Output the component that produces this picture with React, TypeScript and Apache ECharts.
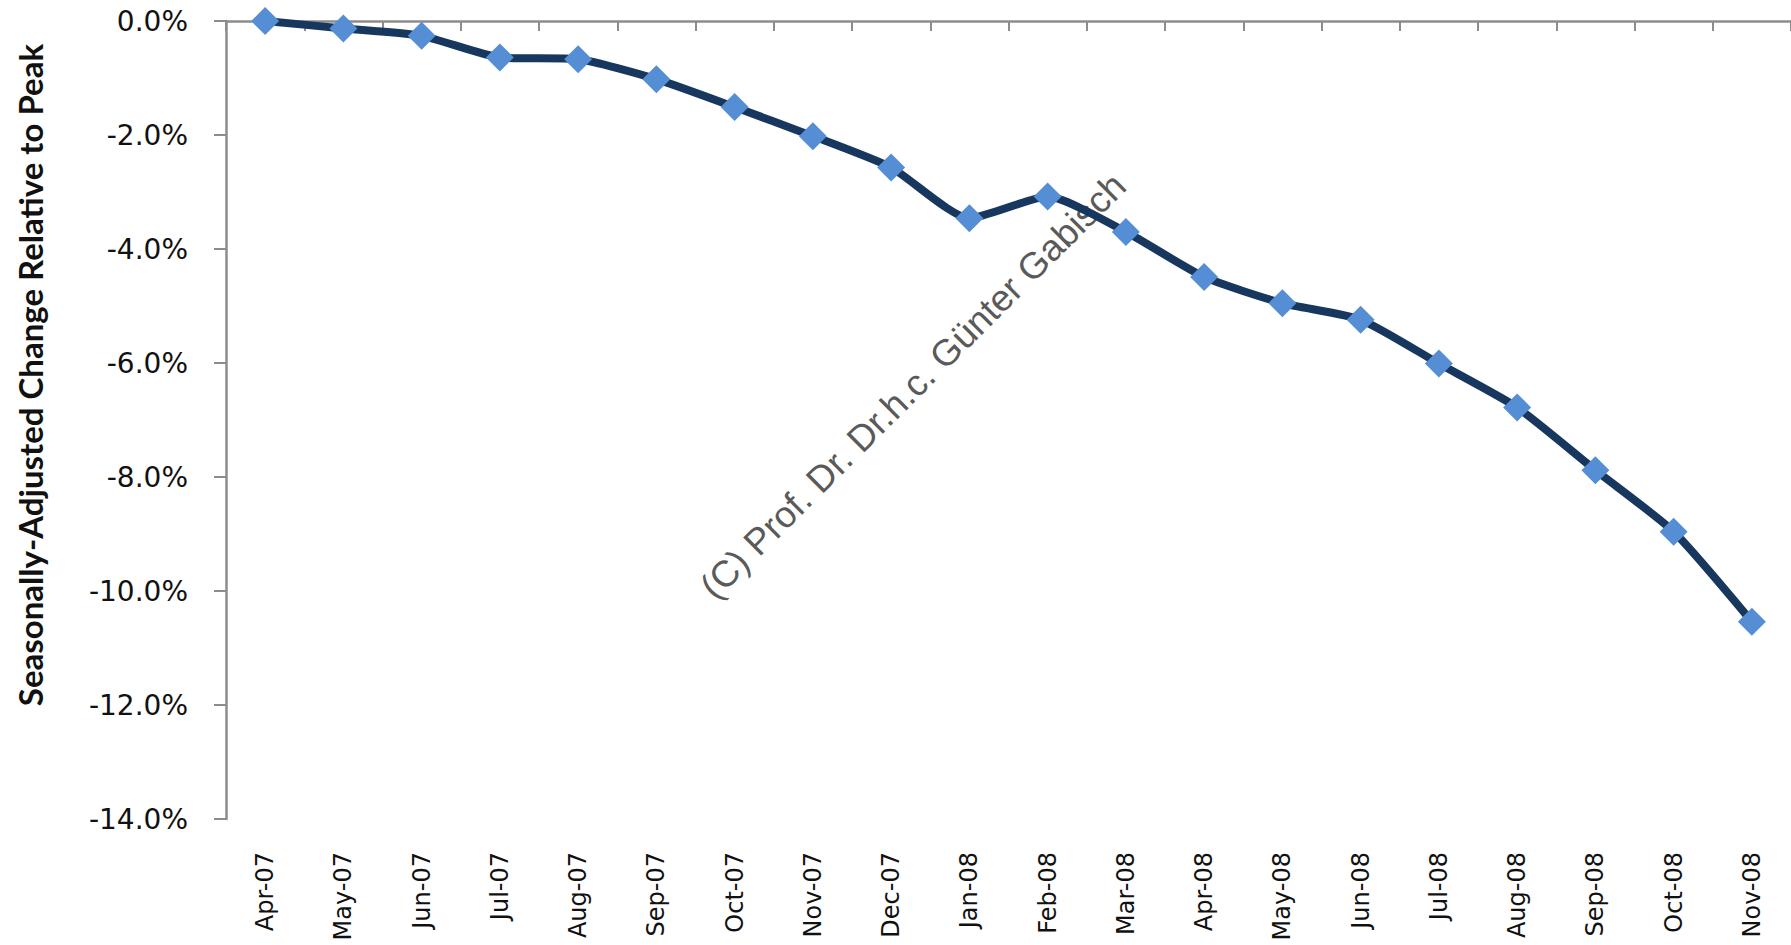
import React, { useEffect, useRef } from "react";
import * as echarts from "echarts";

const months = [
  "Apr-07", "May-07", "Jun-07", "Jul-07", "Aug-07", "Sep-07", "Oct-07", "Nov-07", "Dec-07",
  "Jan-08", "Feb-08", "Mar-08", "Apr-08", "May-08", "Jun-08", "Jul-08", "Aug-08", "Sep-08",
  "Oct-08", "Nov-08",
];

const changeFromPeak = [
  0.0, -0.13, -0.26, -0.64, -0.67, -1.02, -1.51, -2.02, -2.57,
  -3.46, -3.08, -3.7, -4.49, -4.95, -5.24, -6.01, -6.78, -7.88,
  -8.96, -10.54,
];

const yMin = -14;
const yMax = 0;
const yStep = 2;

const yTitle = "Seasonally-Adjusted Change Relative to Peak";
const watermark = "(C) Prof. Dr. Dr.h.c. Günter Gabisch";

export default function App() {
  const ref = useRef<HTMLDivElement>(null);

  useEffect(() => {
    if (!ref.current) return;
    const chart = echarts.init(ref.current, null, { renderer: "svg" });
    const axisGray = "#8c8c8c";
    chart.setOption({
      animation: false,
      backgroundColor: "#ffffff",
      grid: { left: 226, top: 21, width: 1568, height: 798, containLabel: false },
      xAxis: [
        {
          type: "category",
          position: "top",
          data: months,
          boundaryGap: true,
          axisLine: { show: true, onZero: false, lineStyle: { color: axisGray, width: 2.5 } },
          axisTick: { show: true, inside: true, length: 10, lineStyle: { color: axisGray, width: 2 } },
          axisLabel: { show: false },
          splitLine: { show: false },
        },
        {
          type: "category",
          position: "bottom",
          data: months,
          boundaryGap: true,
          axisLine: { show: false },
          axisTick: { show: false },
          axisLabel: {
            show: true,
            rotate: 90,
            margin: 33,
            interval: 0,
            fontSize: 24,
            color: "#111",
            fontFamily: "DejaVu Sans",
          },
          splitLine: { show: false },
        },
      ],
      yAxis: {
        type: "value",
        min: yMin,
        max: yMax,
        interval: yStep,
        axisLine: { show: true, lineStyle: { color: axisGray, width: 2.5 } },
        axisTick: { show: true, inside: false, length: 12, lineStyle: { color: axisGray, width: 2 } },
        splitLine: { show: false },
        axisLabel: {
          margin: 38,
          fontSize: 28,
          color: "#111",
          fontFamily: "DejaVu Sans",
          formatter: (v: number) => v.toFixed(1) + "%",
        },
      },
      graphic: [
        {
          type: "text",
          x: 30,
          y: 375,
          rotation: Math.PI / 2,
          z: 10,
          style: {
            text: yTitle,
            fill: "#111",
            font: "bold 33px Lato",
            textAlign: "center",
            textVerticalAlign: "middle",
          },
        },
        {
          type: "text",
          x: 913,
          y: 386,
          rotation: Math.PI / 4,
          z: 0,
          style: {
            text: watermark,
            fill: "#5a5a5a",
            font: "37px 'Liberation Sans'",
            textAlign: "center",
            textVerticalAlign: "middle",
          },
        },
      ],
      series: [
        {
          type: "line",
          xAxisIndex: 0,
          data: changeFromPeak,
          smooth: 0.2,
          symbol: "diamond",
          symbolSize: 28,
          lineStyle: { color: "#17375e", width: 8 },
          itemStyle: { color: "#558ed5" },
          z: 5,
        },
      ],
    });
    return () => chart.dispose();
  }, []);

  return (
    <div
      ref={ref}
      style={{ position: "absolute", left: 0, top: 0, width: 1791, height: 945 }}
    />
  );
}
